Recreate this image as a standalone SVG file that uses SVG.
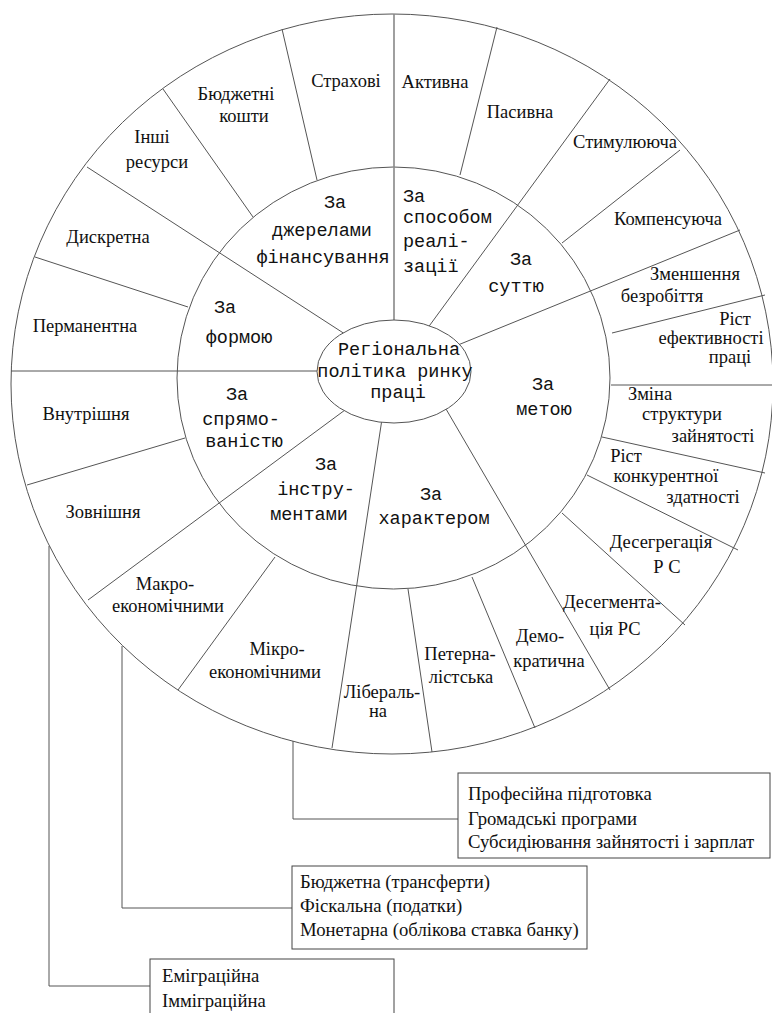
<svg xmlns="http://www.w3.org/2000/svg" width="772" height="1013" viewBox="0 0 772 1013">
<style>
.ring{fill:none;stroke:#555;stroke-width:1}
.ln{stroke:#555;stroke-width:1;fill:none}
.box{fill:#fff;stroke:#444;stroke-width:1}
.o{font-family:"Liberation Serif",serif;font-size:18.5px;fill:#111;text-anchor:middle}
.m{font-family:"Liberation Mono",monospace;font-size:18.5px;fill:#111;text-anchor:middle}
.ml{font-family:"Liberation Mono",monospace;font-size:18.5px;fill:#111}
.b{font-family:"Liberation Serif",serif;font-size:18.7px;fill:#111}
</style>
<rect width="772" height="1013" fill="#fff"/>
<g id="wheel">
<ellipse class="ring" cx="392" cy="384" rx="381" ry="370"/>
<ellipse class="ring" cx="393.5" cy="378" rx="216.5" ry="211"/>
</g>
<g id="connectors">
<line class="ln" x1="394" y1="14" x2="394" y2="325" style="stroke:#888;stroke-width:1.6"/>
<line class="ln" x1="11" y1="371" x2="322" y2="371"/>
<line class="ln" x1="87" y1="167" x2="348" y2="336"/>
<line class="ln" x1="610" y1="79" x2="427" y2="329"/>
<line class="ln" x1="740" y1="230" x2="458" y2="345"/>
<line class="ln" x1="610" y1="690" x2="446" y2="409"/>
<line class="ln" x1="382" y1="419" x2="332" y2="748"/>
<line class="ln" x1="345" y1="410" x2="88" y2="600"/>
<line class="ln" x1="282" y1="29" x2="317" y2="180"/>
<line class="ln" x1="163" y1="89" x2="253" y2="217"/>
<line class="ln" x1="35" y1="257" x2="188" y2="307"/>
<line class="ln" x1="497" y1="27" x2="460" y2="175"/>
<line class="ln" x1="680" y1="150" x2="562" y2="243"/>
<line class="ln" x1="765" y1="295" x2="612" y2="333"/>
<line class="ln" x1="611" y1="385" x2="772" y2="385"/>
<line class="ln" x1="765" y1="473" x2="602" y2="437"/>
<line class="ln" x1="738" y1="550" x2="587" y2="475"/>
<line class="ln" x1="685" y1="625" x2="562" y2="513"/>
<line class="ln" x1="535" y1="728" x2="472" y2="577"/>
<line class="ln" x1="432" y1="752" x2="408" y2="589"/>
<line class="ln" x1="275" y1="557" x2="178" y2="690"/>
<line class="ln" x1="185" y1="438" x2="27" y2="485"/>
<polyline class="ln" points="293,741 293,819 458,819"/>
<polyline class="ln" points="122,646 122,908 292,908"/>
<polyline class="ln" points="49,546 49,986 150,986"/>
</g>
<g id="center">
<ellipse cx="394" cy="371.5" rx="77" ry="51.5" fill="#fff" stroke="#555" stroke-width="1"/>
<text class="m" x="399" y="355">Регіональна</text>
<text class="m" x="395" y="377">політика ринку</text>
<text class="m" x="398" y="398">праці</text>
</g>
<g id="middle-labels">
<text class="m" x="335" y="208">За</text>
<text class="m" x="322" y="236">джерелами</text>
<text class="m" x="323" y="263">фінансування</text>
<text class="ml" x="403" y="202">За</text>
<text class="ml" x="403" y="223">способом</text>
<text class="ml" x="403" y="247">реалі-</text>
<text class="ml" x="403" y="272">зації</text>
<text class="m" x="521" y="265">За</text>
<text class="m" x="516" y="292">суттю</text>
<text class="m" x="543" y="390">За</text>
<text class="m" x="544" y="415">метою</text>
<text class="m" x="431" y="500">За</text>
<text class="m" x="434" y="524">характером</text>
<text class="m" x="326" y="470">За</text>
<text class="m" x="316" y="495">інстру-</text>
<text class="m" x="309" y="520">ментами</text>
<text class="m" x="237" y="400">За</text>
<text class="m" x="241" y="425">спрямо-</text>
<text class="m" x="244" y="447">ваністю</text>
<text class="m" x="225" y="313">За</text>
<text class="m" x="239" y="343">формою</text>
</g>
<g id="outer-labels">
<text class="o" x="346" y="87">Страхові</text>
<text class="o" x="236" y="100">Бюджетні</text>
<text class="o" x="244" y="122">кошти</text>
<text class="o" x="152" y="143">Інші</text>
<text class="o" x="157" y="168">ресурси</text>
<text class="o" x="108" y="243">Дискретна</text>
<text class="o" x="85" y="332">Перманентна</text>
<text class="o" x="86" y="420">Внутрішня</text>
<text class="o" x="103" y="518">Зовнішня</text>
<text class="o" x="165" y="590">Макро-</text>
<text class="o" x="168" y="612">економічними</text>
<text class="o" x="277" y="655">Мікро-</text>
<text class="o" x="265" y="678">економічними</text>
<text class="o" x="382" y="698">Лібераль-</text>
<text class="o" x="378" y="717">на</text>
<text class="o" x="460" y="660">Петерна-</text>
<text class="o" x="461" y="683">лістська</text>
<text class="o" x="540" y="642">Демо-</text>
<text class="o" x="549" y="667">кратична</text>
<text class="o" x="612" y="608">Десегмента-</text>
<text class="o" x="615" y="635">ція РС</text>
<text class="o" x="661" y="548">Десегрегація</text>
<text class="o" x="667" y="573">Р С</text>
<text class="o" x="626" y="462">Ріст</text>
<text class="o" x="666" y="482">конкурентної</text>
<text class="o" x="703" y="503">здатності</text>
<text class="o" x="650" y="400">Зміна</text>
<text class="o" x="682" y="420">структури</text>
<text class="o" x="713" y="442">зайнятості</text>
<text class="o" x="735" y="325">Ріст</text>
<text class="o" x="711" y="344">ефективності</text>
<text class="o" x="730" y="363">праці</text>
<text class="o" x="695" y="280">Зменшення</text>
<text class="o" x="662" y="302">безробіття</text>
<text class="o" x="668" y="225">Компенсуюча</text>
<text class="o" x="625" y="148">Стимулююча</text>
<text class="o" x="520" y="118">Пасивна</text>
<text class="o" x="435" y="88">Активна</text>
</g>
<g id="box-instruments-micro">
<rect class="box" x="458" y="773" width="312" height="85"/>
<text class="b" x="468" y="800">Професійна підготовка</text>
<text class="b" x="468" y="825">Громадські програми</text>
<text class="b" x="468" y="848">Субсидіювання зайнятості і зарплат</text>
</g>
<g id="box-instruments-macro">
<rect class="box" x="292" y="866" width="295" height="83"/>
<text class="b" x="300" y="888">Бюджетна (трансферти)</text>
<text class="b" x="300" y="912">Фіскальна (податки)</text>
<text class="b" x="300" y="936">Монетарна (облікова ставка банку)</text>
</g>
<g id="box-external">
<rect class="box" x="150" y="959" width="244" height="70"/>
<text class="b" x="162" y="982">Еміграційна</text>
<text class="b" x="162" y="1007">Імміграційна</text>
</g>
</svg>
